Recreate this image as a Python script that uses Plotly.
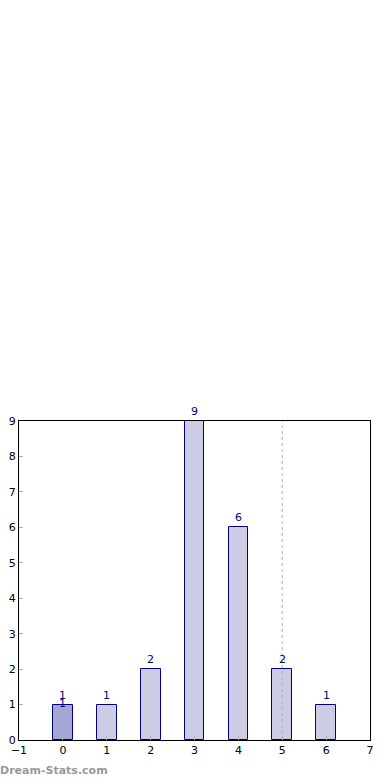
import plotly.graph_objects as go

categories = [0, 1, 2, 3, 4, 5, 6]
counts = [1, 1, 2, 9, 6, 2, 1]
highlight_index = 0
highlight_value = 1
marker_x = 5
x_ticks = [-1, 0, 1, 2, 3, 4, 5, 6, 7]
y_ticks = [0, 1, 2, 3, 4, 5, 6, 7, 8, 9]

base_color = "#ccccE5"
hi_color = "#a6a6d2"
edge = "#00008B"

colors = [hi_color if i == highlight_index else base_color for i in range(len(categories))]

fig = go.Figure()
fig.add_trace(go.Bar(
    x=categories, y=counts, width=0.45,
    marker=dict(color=colors, line=dict(color=edge, width=1)),
    hoverinfo="skip", showlegend=False,
))

for c, v in zip(categories, counts):
    fig.add_annotation(x=c, y=v, text=str(v), xref="x", yref="y",
                       xanchor="center", yanchor="bottom", yshift=1,
                       showarrow=False,
                       font=dict(family="DejaVu Sans", size=11, color=edge))
fig.add_annotation(x=categories[highlight_index], y=highlight_value, text=str(highlight_value),
                   xref="x", yref="y", xanchor="center", yanchor="middle", yshift=1,
                   showarrow=False,
                   font=dict(family="DejaVu Sans", size=11, color=edge))

fig.add_shape(type="line", xref="x", yref="paper", x0=marker_x, x1=marker_x, y0=0, y1=1,
              line=dict(color="#b0b0b0", width=1, dash="dot"))

axis_common = dict(
    showgrid=False, zeroline=False, showline=True, linecolor="black", linewidth=1,
    mirror=True, ticks="inside", ticklen=4, tickcolor="#b0b0b0",
    tickfont=dict(family="DejaVu Sans", size=11, color="black"),
    automargin=False,
)
fig.update_xaxes(range=[-1, 7], tickvals=x_ticks, **axis_common)
fig.update_yaxes(range=[0, 9], tickvals=y_ticks, **axis_common)

fig.add_annotation(text="<b>Dream-Stats.com</b>", xref="paper", yref="paper",
                   x=-19/351, y=-30/319, xanchor="left", yanchor="middle",
                   xshift=-2,
                   showarrow=False, font=dict(family="DejaVu Sans", size=11, color="#999999"))

fig.update_layout(
    width=390, height=780,
    margin=dict(l=19, r=20, t=421, b=40),
    plot_bgcolor="white", paper_bgcolor="white",
    bargap=0,
)
fig.write_html("out.html")
